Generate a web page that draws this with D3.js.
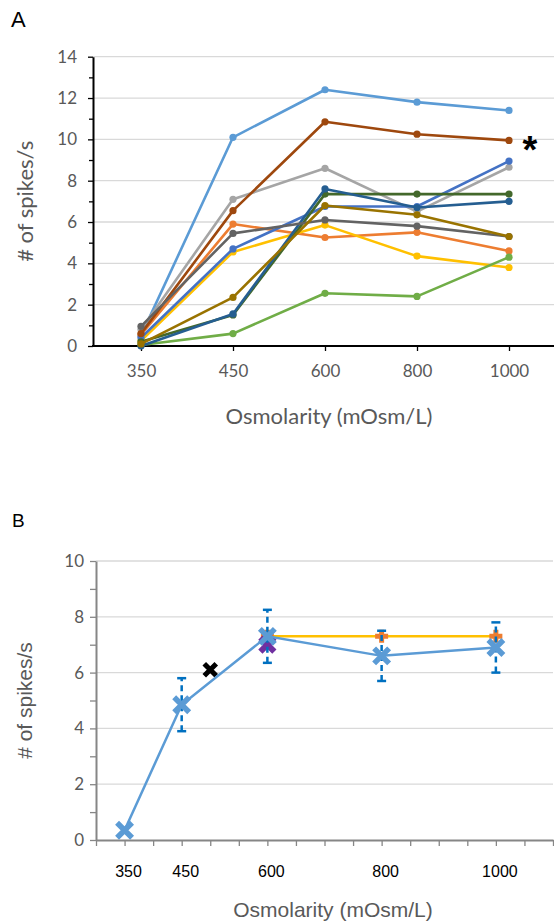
<!DOCTYPE html>
<html>
<head>
<meta charset="utf-8">
<script src="https://cdn.jsdelivr.net/npm/d3@7"></script>
<style>
  body { margin: 0; background: #fff; }
  svg { display: block; }
</style>
</head>
<body>
<svg></svg>
<script>
// ---- data panel A (one line per recorded cell) ----
const osmA = ['350', '450', '600', '800', '1000'];
const cellLightBlue = [0.5, 10.1, 12.4, 11.8, 11.4];
const cellOrange    = [0.55, 5.9, 5.25, 5.5, 4.6];
const cellGray      = [0.8, 7.1, 8.6, 6.5, 8.65];
const cellYellow    = [0.25, 4.55, 5.85, 4.35, 3.8];
const cellBlue      = [0.4, 4.7, 6.75, 6.75, 8.95];
const cellGreen     = [0.05, 0.6, 2.55, 2.4, 4.3];
const cellDarkGreen = [0.2, 1.5, 7.35, 7.35, 7.35];
const cellDarkBlue  = [0.0, 1.55, 7.6, 6.7, 7.0];
const cellBrown     = [0.6, 6.55, 10.85, 10.25, 9.95];
const cellDarkGray  = [0.95, 5.45, 6.1, 5.8, 5.3];
const cellOlive     = [0.1, 2.35, 6.8, 6.35, 5.3];
const cellsA = [cellLightBlue, cellOrange, cellGray, cellYellow, cellBlue, cellGreen,
                cellDarkGreen, cellDarkBlue, cellBrown, cellDarkGray, cellOlive];
const colorsA = ['#5B9BD5', '#ED7D31', '#A5A5A5', '#FFC000', '#4472C4', '#70AD47',
                 '#43682B', '#255E91', '#9E480E', '#636363', '#997300'];
const ticksA = [0, 2, 4, 6, 8, 10, 12, 14];

// ---- data panel B ----
const osmB = [350, 450, 600, 800, 1000];
const meanB = [0.35, 4.85, 7.3, 6.6, 6.9];
const errB = [0, 0.95, 0.95, 0.9, 0.9];
const osmPlus = [600, 800, 1000];
const valPlus = [7.3, 7.3, 7.3];
const purplePoint = [600, 7.0];
const blackPoint = [500, 6.1];
const ticksB = [0, 2, 4, 6, 8, 10];

const W = 554, H = 921;
const calibri = 'Lato, "Open Sans", sans-serif';
const arial = '"Liberation Sans", Arial, sans-serif';

const svg = d3.select('svg').attr('width', W).attr('height', H);

// ================= panel A =================
const xA = d3.scalePoint().domain(osmA).range([95, 555]).padding(0.5);
const yA = d3.scaleLinear().domain([0, 14]).range([346, 56.7]);

svg.append('text').attr('x', 11).attr('y', 27)
    .style('font-family', arial).style('font-size', '22px').text('A');

// gridlines
svg.append('g').selectAll('line')
    .data(ticksA.slice(1))
    .join('line')
    .attr('x1', 93).attr('x2', W)
    .attr('y1', d => yA(d)).attr('y2', d => yA(d))
    .attr('stroke', '#D9D9D9').attr('stroke-width', 1.3);

// minor ticks
svg.append('g')
    .attr('transform', 'translate(93,0)')
    .call(d3.axisLeft(yA).tickValues(d3.range(1, 14, 2)).tickSize(4).tickFormat(''))
    .call(g => g.select('.domain').remove())
    .call(g => g.selectAll('line').attr('stroke', '#000').attr('stroke-width', 1.3));

const yAxisA = svg.append('g')
    .attr('transform', 'translate(93,0)')
    .call(d3.axisLeft(yA).tickValues(ticksA).tickSize(5).tickSizeOuter(0).tickPadding(11));
yAxisA.select('.domain').attr('stroke', '#000').attr('stroke-width', 2);
yAxisA.selectAll('line').attr('stroke', '#000').attr('stroke-width', 1.3);
yAxisA.selectAll('text').attr('fill', '#595959')
    .style('font-family', calibri).style('font-size', '17px');

const xAxisA = svg.append('g')
    .attr('transform', 'translate(0,346)')
    .call(d3.axisBottom(xA).tickSize(5).tickSizeOuter(0).tickPadding(14));
xAxisA.select('.domain').attr('d', `M92,0H${W}`).attr('stroke', '#000').attr('stroke-width', 2);
xAxisA.selectAll('line').attr('stroke', '#000').attr('stroke-width', 1.3);
xAxisA.selectAll('text').attr('fill', '#595959')
    .style('font-family', calibri).style('font-size', '17px');

// lines + dots
const lineA = d3.line().x((d, i) => xA(osmA[i])).y(d => yA(d));
cellsA.forEach((vals, k) => {
    const g = svg.append('g');
    g.append('path').attr('d', lineA(vals))
        .attr('fill', 'none').attr('stroke', colorsA[k])
        .attr('stroke-width', 2.6).attr('stroke-linejoin', 'round');
    g.selectAll('circle').data(vals).join('circle')
        .attr('cx', (d, i) => xA(osmA[i])).attr('cy', d => yA(d))
        .attr('r', 3.6).attr('fill', colorsA[k]);
});

svg.append('text').attr('x', 530).attr('y', 163).attr('text-anchor', 'middle')
    .style('font-family', arial).style('font-size', '38px').style('font-weight', 'bold')
    .text('*');

svg.append('text').attr('x', 329).attr('y', 424).attr('text-anchor', 'middle')
    .attr('fill', '#595959').style('font-family', calibri).style('font-size', '22px')
    .text('Osmolarity (mOsm/L)');

svg.append('text').attr('transform', `translate(33,${yA(7)}) rotate(-90)`)
    .attr('text-anchor', 'middle').attr('fill', '#595959')
    .style('font-family', calibri).style('font-size', '22px')
    .text('# of spikes/s');

// ================= panel B =================
const xB = d3.scaleLinear().domain([300, 1100]).range([96, 553]);
const yB = d3.scaleLinear().domain([0, 10]).range([840, 561]);

svg.append('text').attr('x', 12).attr('y', 527)
    .style('font-family', arial).style('font-size', '19px').text('B');

svg.append('g').selectAll('line')
    .data(ticksB.slice(1))
    .join('line')
    .attr('x1', 96).attr('x2', 553)
    .attr('y1', d => yB(d)).attr('y2', d => yB(d))
    .attr('stroke', '#D9D9D9').attr('stroke-width', 1.3);

svg.append('g')
    .attr('transform', 'translate(96,0)')
    .call(d3.axisLeft(yB).tickValues(d3.range(1, 10, 2)).tickSize(6).tickFormat(''))
    .call(g => g.select('.domain').remove())
    .call(g => g.selectAll('line').attr('stroke', '#868686').attr('stroke-width', 1.3));

const yAxisB = svg.append('g')
    .attr('transform', 'translate(96,0)')
    .call(d3.axisLeft(yB).tickValues(ticksB).tickSize(6).tickSizeOuter(0).tickPadding(6));
yAxisB.select('.domain').attr('stroke', '#868686').attr('stroke-width', 2);
yAxisB.selectAll('line').attr('stroke', '#868686').attr('stroke-width', 1.3);
yAxisB.selectAll('text').attr('fill', '#595959')
    .style('font-family', calibri).style('font-size', '17px');

const xAxisB = svg.append('g')
    .attr('transform', 'translate(0,840)')
    .call(d3.axisBottom(xB).tickValues(d3.range(300, 1101, 50)).tickSize(6)
        .tickSizeOuter(0).tickFormat(''));
xAxisB.select('.domain').attr('stroke', '#868686').attr('stroke-width', 2);
xAxisB.selectAll('line').attr('stroke', '#868686').attr('stroke-width', 1.3);

svg.append('g').selectAll('text').data(osmB).join('text')
    .attr('x', d => xB(d) + 4).attr('y', 877).attr('text-anchor', 'middle')
    .style('font-family', arial).style('font-size', '16px')
    .text(d => d);

svg.append('text').attr('x', 333).attr('y', 917).attr('text-anchor', 'middle')
    .attr('fill', '#595959').style('font-family', arial).style('font-size', '21px')
    .text('Osmolarity (mOsm/L)');

svg.append('text').attr('transform', `translate(32,${yB(5)}) rotate(-90)`)
    .attr('text-anchor', 'middle').attr('fill', '#595959')
    .style('font-family', arial).style('font-size', '21px')
    .text('# of spikes/s');

// marker paths
const xPath = s => `M${-s},${-s}L${s},${s}M${-s},${s}L${s},${-s}`;
const plusPath = s => `M${-s},0H${s}M0,${-s}V${s}`;

// yellow line with orange plus markers
svg.append('path')
    .attr('d', d3.line().x((d, i) => xB(osmPlus[i])).y(d => yB(d))(valPlus))
    .attr('fill', 'none').attr('stroke', '#FFC000').attr('stroke-width', 2.5);
svg.append('g').selectAll('path').data(valPlus).join('path')
    .attr('transform', (d, i) => `translate(${xB(osmPlus[i])},${yB(d)})`)
    .attr('d', plusPath(6.5))
    .attr('stroke', '#ED7D31').attr('stroke-width', 5).attr('fill', 'none');

// purple and black single points
svg.append('path')
    .attr('transform', `translate(${xB(purplePoint[0])},${yB(purplePoint[1])})`)
    .attr('d', xPath(7))
    .attr('stroke', '#7030A0').attr('stroke-width', 6).attr('fill', 'none');
svg.append('path')
    .attr('transform', `translate(${xB(blackPoint[0])},${yB(blackPoint[1])})`)
    .attr('d', xPath(6))
    .attr('stroke', '#000').attr('stroke-width', 5).attr('fill', 'none');

// error bars (dashed, with caps)
const errG = svg.append('g');
osmB.forEach((v, i) => {
    if (!errB[i]) return;
    const x = xB(v);
    errG.append('line')
        .attr('x1', x).attr('x2', x)
        .attr('y1', yB(meanB[i] - errB[i])).attr('y2', yB(meanB[i] + errB[i]))
        .attr('stroke', '#0070C0').attr('stroke-width', 2.5)
        .attr('stroke-dasharray', '6,4');
    [meanB[i] - errB[i], meanB[i] + errB[i]].forEach(e => {
        errG.append('line')
            .attr('x1', x - 4.5).attr('x2', x + 4.5)
            .attr('y1', yB(e)).attr('y2', yB(e))
            .attr('stroke', '#0070C0').attr('stroke-width', 2.5);
    });
});

// mean line with X markers
svg.append('path')
    .attr('d', d3.line().x((d, i) => xB(osmB[i])).y(d => yB(d))(meanB))
    .attr('fill', 'none').attr('stroke', '#5B9BD5').attr('stroke-width', 2.5);
svg.append('g').selectAll('path').data(meanB).join('path')
    .attr('transform', (d, i) => `translate(${xB(osmB[i])},${yB(d)})`)
    .attr('d', xPath(7.5))
    .attr('stroke', '#5B9BD5').attr('stroke-width', 5.5).attr('fill', 'none');
</script>
</body>
</html>
